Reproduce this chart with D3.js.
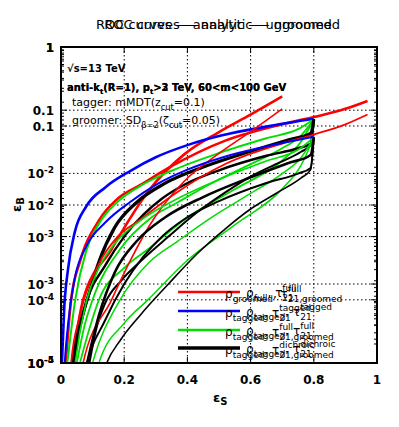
<!DOCTYPE html>
<html>
<head>
<meta charset="utf-8">
<script src="https://cdn.jsdelivr.net/npm/d3@7"></script>
<style>
  body { margin: 0; background: #fff; }
  svg text { font-family: "DejaVu Sans", sans-serif; }
</style>
</head>
<body>
<svg id="chart" width="399" height="427"></svg>
<script>
// curves, [eps_S, eps_B]
const rhoFull   = [[0.015,1e-5],[0.032,1e-4],[0.06,4e-4],[0.12,1.8e-3],[0.18,4e-3],[0.25,6.5e-3],[0.35,0.013],[0.52,0.033],[0.7,0.06],[0.8,0.078],[0.9,0.105],[0.97,0.14]];
const rhoSteep  = [[0.035,1e-5],[0.07,1e-4],[0.16,6.3e-4],[0.22,2e-3],[0.28,5.5e-3],[0.39,0.02],[0.5,0.045],[0.6,0.085],[0.7,0.165]];
const tagged    = [[0.003,1e-5],[0.01,7e-5],[0.022,3e-4],[0.044,1.2e-3],[0.08,3e-3],[0.14,6e-3],[0.22,0.011],[0.3,0.018],[0.4,0.028],[0.51,0.04],[0.65,0.055],[0.8,0.073]];
const fullA     = [[0.02,1e-5],[0.045,1e-4],[0.08,6e-4],[0.12,1.6e-3],[0.18,3.6e-3],[0.25,6.3e-3],[0.35,0.011],[0.5,0.021],[0.65,0.036],[0.75,0.05],[0.8,0.072]];
const fullB     = [[0.06,1e-5],[0.09,3.5e-5],[0.12,1e-4],[0.2,3.2e-4],[0.275,6.3e-4],[0.4,2e-3],[0.55,5.6e-3],[0.7,0.016],[0.76,0.032],[0.8,0.072]];
const fullC     = [[0.05,1e-5],[0.075,4e-5],[0.1,1e-4],[0.187,6.3e-4],[0.28,1.9e-3],[0.37,3.5e-3],[0.465,6.5e-3],[0.6,0.014],[0.7,0.025],[0.76,0.04],[0.8,0.072]];
const dichroicA = [[0.035,1e-5],[0.055,3.2e-5],[0.085,1.1e-4],[0.12,4e-4],[0.17,1.4e-3],[0.24,3.5e-3],[0.33,7e-3],[0.45,0.0126],[0.6,0.0224],[0.72,0.034],[0.79,0.043],[0.8,0.072]];
const dichroicB = [[0.04,1e-5],[0.06,3.5e-5],[0.08,8.9e-5],[0.14,3.5e-4],[0.2,1e-3],[0.26,2.2e-3],[0.32,4e-3],[0.39,6.6e-3],[0.5,0.0112],[0.65,0.019],[0.75,0.025],[0.79,0.0295],[0.8,0.072]];
const dichroicC = [[0.09,1e-5],[0.11,3.2e-5],[0.14,8.9e-5],[0.19,2e-4],[0.25,4e-4],[0.34,1e-3],[0.43,2.4e-3],[0.52,5e-3],[0.6,8.9e-3],[0.68,0.014],[0.76,0.022],[0.79,0.028],[0.8,0.072]];

const xTicks = [0, 0.2, 0.4, 0.6, 0.8, 1];
const xTickLabels = ["0", "0.2", "0.4", "0.6", "0.8", "1"];
const titles = ["ROC curves \u2014 analytic \u2014 ungroomed", "ROC curves \u2014 analytic \u2014 groomed"];
const yMinUngroomed = 1e-5;
const yMinGroomed = 1e-4;

const svg = d3.select("#chart");
const pL = 61, pR = 377, pT = 47, pB = 363;

const x = d3.scaleLinear().domain([0, 1]).range([pL, pR]);
const yA = d3.scaleLog().domain([yMinUngroomed, 1]).range([pB, pT]);
const yB = d3.scaleLog().domain([yMinGroomed, 1]).range([pB, pT]);

svg.append("defs").append("clipPath").attr("id", "clip")
  .append("rect").attr("x", pL).attr("y", pT).attr("width", pR - pL).attr("height", pB - pT);

// titles (two panels overlaid)
titles.forEach(t => {
  svg.append("text").attr("x", 218).attr("y", 29).attr("text-anchor", "middle")
    .attr("font-size", 13).text(t);
});

// grid
const grid = svg.append("g").attr("stroke", "#000").attr("stroke-width", 1).attr("stroke-dasharray", "1.5,2.5");
[0.2, 0.4, 0.6, 0.8].forEach(v => {
  grid.append("line").attr("x1", x(v)).attr("x2", x(v)).attr("y1", pT).attr("y2", pB);
});
[yA, yB].forEach(ys => {
  const [lo] = ys.domain();
  for (let e = Math.round(Math.log10(lo)) + 1; e < 0; e++) {
    grid.append("line").attr("x1", pL).attr("x2", pR).attr("y1", ys(10 ** e)).attr("y2", ys(10 ** e));
  }
});

// curves
const line = ys => d3.line().x(d => x(d[0])).y(d => ys(d[1])).curve(d3.curveMonotoneX);
const curveSpecs = [
  { pts: rhoFull, color: "#ff0000", w: [2.6, 1.8] },
  { pts: rhoSteep, color: "#ff0000", w: [2.6, 1.6] },
  { pts: tagged, color: "#0000ff", w: [2.6, 2.0] },
  { pts: fullA, color: "#00dd00", w: [2.0, 1.6] },
  { pts: fullB, color: "#00dd00", w: [1.8, 1.5] },
  { pts: fullC, color: "#00dd00", w: [1.8, 1.5] },
  { pts: dichroicA, color: "#000", w: [3.2, 2.6] },
  { pts: dichroicB, color: "#000", w: [2.4, 2.0] },
  { pts: dichroicC, color: "#000", w: [2.0, 1.6] }
];
const plot = svg.append("g").attr("clip-path", "url(#clip)");
[yA, yB].forEach((ys, i) => {
  curveSpecs.forEach(c => {
    plot.append("path").datum(c.pts).attr("d", line(ys))
      .attr("fill", "none").attr("stroke", c.color).attr("stroke-width", c.w[i]);
  });
});

// ticks
const ticks = svg.append("g").attr("stroke", "#000");
[yA, yB].forEach(ys => {
  const [lo] = ys.domain();
  for (let e = Math.round(Math.log10(lo)); e <= 0; e++) {
    for (let m = 1; m <= 9; m++) {
      const v = m * 10 ** e;
      if (v > 1) break;
      const len = m === 1 ? 6 : 3;
      ticks.append("line").attr("x1", pL).attr("x2", pL + len).attr("y1", ys(v)).attr("y2", ys(v));
      ticks.append("line").attr("x1", pR).attr("x2", pR - len).attr("y1", ys(v)).attr("y2", ys(v));
    }
  }
});
xTicks.forEach(v => {
  ticks.append("line").attr("x1", x(v)).attr("x2", x(v)).attr("y1", pB).attr("y2", pB - 6);
  ticks.append("line").attr("x1", x(v)).attr("x2", x(v)).attr("y1", pT).attr("y2", pT + 6);
});

svg.append("rect").attr("x", pL).attr("y", pT).attr("width", pR - pL).attr("height", pB - pT)
  .attr("fill", "none").attr("stroke", "#000").attr("stroke-width", 2);

// tick labels
xTicks.forEach((v, i) => {
  svg.append("text").attr("x", x(v)).attr("y", 384).attr("text-anchor", "middle")
    .attr("font-size", 12).attr("font-weight", "bold").text(xTickLabels[i]);
});
[yA, yB].forEach(ys => {
  const [lo] = ys.domain();
  for (let e = Math.round(Math.log10(lo)); e <= 0; e++) {
    const t = svg.append("text").attr("y", ys(10 ** e) + 5).attr("x", 54).attr("text-anchor", "end")
      .attr("font-size", 12).attr("font-weight", "bold");
    if (e === 0) t.text("1");
    else if (e === -1) t.text("0.1");
    else {
      t.append("tspan").text("10");
      t.append("tspan").attr("dy", -5).attr("font-size", 9).text(String(e));
    }
  }
});

// axis labels
const xl = svg.append("text").attr("x", 213).attr("y", 402).attr("font-size", 13).attr("font-weight", "bold");
xl.append("tspan").text("\u03b5");
xl.append("tspan").attr("dy", 3).attr("font-size", 10).text("S");
const yl = svg.append("text").attr("transform", "translate(21,212) rotate(-90)").attr("font-size", 13).attr("font-weight", "bold");
yl.append("tspan").text("\u03b5");
yl.append("tspan").attr("dy", 3).attr("font-size", 10).text("B");

// rich text helper: pieces are base text, sub, sup or a stack [sup, sub]
function rich(x0, y0, pieces, size) {
  let cx = x0;
  const g = svg.append("g");
  const put = (txt, dy, fs) => {
    const t = g.append("text").attr("x", cx).attr("y", y0 + dy).attr("font-size", fs).text(txt);
    return t.node().getComputedTextLength();
  };
  pieces.forEach(p => {
    if (p.stack) {
      const w1 = put(p.stack[0], -6, size * 0.75);
      const w2 = put(p.stack[1], 4, size * 0.75);
      cx += Math.max(w1, w2);
    } else if (p.sub) {
      cx += put(p.sub, 4, size * 0.75);
    } else if (p.sup) {
      cx += put(p.sup, -6, size * 0.75);
    } else {
      cx += put(p.t, 0, size);
    }
  });
  return g;
}

// annotations
svg.append("text").attr("x", 67).attr("y", 72).attr("font-size", 10).attr("font-weight", "bold").text("\u221as=13 TeV");
[2, 3].forEach(pt => {
  const t = svg.append("text").attr("x", 67).attr("y", 91).attr("font-size", 10).attr("font-weight", "bold");
  t.append("tspan").text("anti-k");
  t.append("tspan").attr("dy", 3).attr("font-size", 7).text("t");
  t.append("tspan").attr("dy", -3).text("(R=1), p");
  t.append("tspan").attr("dy", 3).attr("font-size", 7).text("t");
  t.append("tspan").attr("dy", -3).text(`>${pt} TeV, 60<m<100 GeV`);
});
rich(72, 106, [{ t: "tagger: mMDT(z" }, { sub: "cut" }, { t: "=0.1)" }], 11);
rich(72, 124, [{ t: "groomer: SD" }, { sub: "\u03b2=2" }, { t: "(\u03b6" }, { sub: "cut" }, { t: "=0.05)" }], 11);

// legends (two overlaid)
const legendColors = ["#ff0000", "#0000ff", "#00dd00", "#000"];
const legendWidths = [2.6, 2.6, 2.6, 3.4];
const legendRows = [292, 311, 330, 348];
const legendUngroomed = [
  [{ t: "\u03c1" }, { sub: "full" }, { t: ", \u03c4" }, { stack: ["full", "21"] }],
  [{ t: "\u03c1" }, { sub: "tagged" }, { t: ", \u03c4" }, { stack: ["tagged", "21"] }],
  [{ t: "\u03c1" }, { sub: "tagged" }, { t: ", \u03c4" }, { stack: ["full", "21"] }],
  [{ t: "\u03c1" }, { sub: "tagged" }, { t: ", \u03c4" }, { stack: ["dichroic", "21"] }]
];
const legendGroomed = [
  [{ t: "\u03c1" }, { sub: "groomed" }, { t: ", \u03c4" }, { stack: ["full", "21,groomed"] }],
  [{ t: "\u03c1" }, { sub: "tagged" }, { t: ", \u03c4" }, { stack: ["tagged", "21"] }],
  [{ t: "\u03c1" }, { sub: "tagged" }, { t: ", \u03c4" }, { stack: ["full", "21,groomed"] }],
  [{ t: "\u03c1" }, { sub: "tagged" }, { t: ", \u03c4" }, { stack: ["dichroic", "21,groomed"] }]
];
legendRows.forEach((yy, i) => {
  svg.append("line").attr("x1", 178).attr("x2", 240).attr("y1", yy).attr("y2", yy)
    .attr("stroke", legendColors[i]).attr("stroke-width", legendWidths[i]);
  rich(225, yy + 6, legendGroomed[i], 12);
  rich(246, yy + 5, legendUngroomed[i], 12);
});
</script>
</body>
</html>
